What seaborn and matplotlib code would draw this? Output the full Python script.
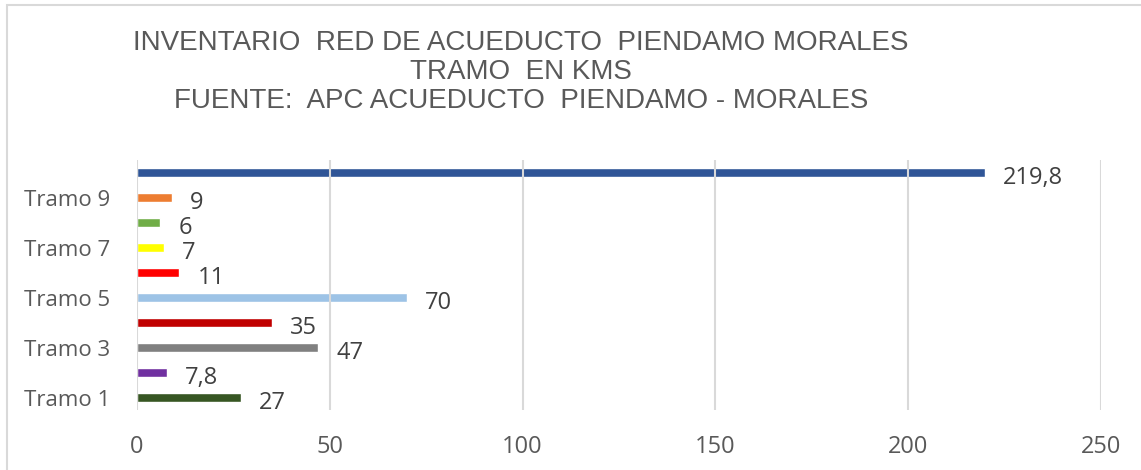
import matplotlib
matplotlib.use("Agg")
import matplotlib.pyplot as plt
import seaborn as sns
import pandas as pd
from matplotlib.patches import Rectangle

# Longitud de cada tramo de la red (km)
tramos = ["Tramo 1", "Tramo 2", "Tramo 3", "Tramo 4", "Tramo 5",
          "Tramo 6", "Tramo 7", "Tramo 8", "Tramo 9", "Total"]
longitud_km = [27, 7.8, 47, 35, 70, 11, 7, 6, 9, 219.8]
etiquetas = ["27", "7,8", "47", "35", "70", "11", "7", "6", "9", "219,8"]
colores = ["#375623", "#7030A0", "#808080", "#C00000", "#9DC3E6",
           "#FF0000", "#FFFF00", "#70AD47", "#ED7D31", "#2F5597"]
xticks = [0, 50, 100, 150, 200, 250]

sns.set_theme(style="white")
plt.rcParams["font.family"] = ["Open Sans", "DejaVu Sans"]

df = pd.DataFrame({"tramo": tramos, "km": longitud_km})

fig = plt.figure(figsize=(11.41, 4.70), dpi=100)
ax = fig.add_axes([137 / 1141, 1 - 410 / 470, 964 / 1141, 250 / 470])

sns.barplot(data=df, x="km", y="tramo", hue="tramo", palette=colores,
            order=tramos, hue_order=tramos, orient="h", legend=False,
            width=0.36, saturation=1, ax=ax)

ax.set_xlim(0, 250)
ax.set_ylim(-0.5, len(tramos) - 0.5)
ax.set_xticks(xticks)
ax.set_xticklabels([str(t) for t in xticks])
ax.set_yticks(range(len(tramos)))
ax.set_yticklabels([t if i % 2 == 0 else "" for i, t in enumerate(tramos)])
ax.set_xlabel("")
ax.set_ylabel("")

ax.grid(axis="x", color="#D9D9D9", linewidth=1.5)
ax.set_axisbelow(False)
for line in ax.get_xgridlines():
    line.set_zorder(0.5)
for s in ax.spines.values():
    s.set_visible(False)
ax.tick_params(axis="both", length=0, colors="#595959")
ax.tick_params(axis="x", pad=18, labelsize=17)
ax.tick_params(axis="y", pad=19, labelsize=16)

# Etiquetas de valor al final de cada barra
for i, (v, lab) in enumerate(zip(longitud_km, etiquetas)):
    ax.annotate(lab, xy=(v, i), xytext=(13, -4), textcoords="offset points",
                ha="left", va="center", fontsize=17, color="#404040")

titulo = ("INVENTARIO  RED DE ACUEDUCTO  PIENDAMO MORALES\n"
          "TRAMO  EN KMS\n"
          "FUENTE:  APC ACUEDUCTO  PIENDAMO - MORALES")
fig.text(521 / 1141, 1 - 72 / 470, titulo, ha="center", va="center",
         fontsize=20, color="#595959", linespacing=1.14,
         family=["Liberation Sans", "DejaVu Sans"])

# Borde del área del gráfico
fig.patches.append(Rectangle((7 / 1141, -0.1), 1.2, 1 - 5 / 470 + 0.1,
                             transform=fig.transFigure, fill=False,
                             edgecolor="#D9D9D9", linewidth=1.5))

fig.savefig("out.png", dpi=100)
